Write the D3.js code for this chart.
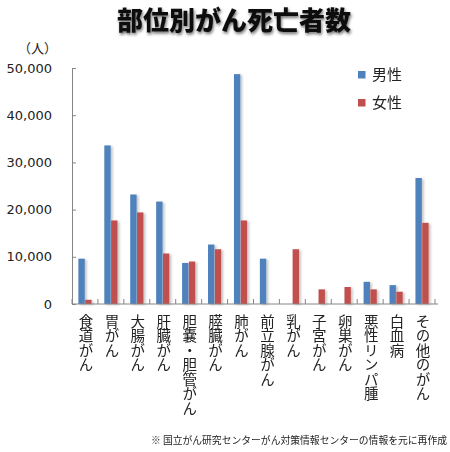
<!DOCTYPE html>
<html><head><meta charset="utf-8">
<script src="https://cdn.jsdelivr.net/npm/d3@7"></script>
<style>
html,body{margin:0;padding:0;background:#fff;}
svg{display:block;}
</style></head>
<body>
<svg id="c" width="450" height="452"></svg>
<script>
const categories = ["食道がん","胃がん","大腸がん","肝臓がん","胆嚢・胆管がん","膵臓がん","肺がん","前立腺がん","乳がん","子宮がん","卵巣がん","悪性リンパ腫","白血病","その他のがん"];
const seriesNames = ["男性","女性"];
const maleValues = [9600, 33600, 23200, 21700, 8700, 12600, 48700, 9600, 0, 0, 0, 4700, 4000, 26700];
const femaleValues = [900, 17700, 19400, 10700, 9000, 11600, 17700, 0, 11600, 3100, 3600, 3100, 2600, 17200];
const yTicks = [0, 10000, 20000, 30000, 40000, 50000];
const colors = ["#4F81BD", "#C0504D"];

const svg = d3.select("#c");
const defs = svg.append("defs");
const ts = defs.append("filter").attr("id","tshadow").attr("x","-10%").attr("y","-30%").attr("width","130%").attr("height","180%");
ts.append("feDropShadow").attr("dx",1).attr("dy",2).attr("stdDeviation",1.8).attr("flood-color","#000").attr("flood-opacity",0.55);
const bs = defs.append("filter").attr("id","bshadow").attr("x","-20%").attr("y","-5%").attr("width","160%").attr("height","110%");
bs.append("feDropShadow").attr("dx",2).attr("dy",1).attr("stdDeviation",0.8).attr("flood-color","#000").attr("flood-opacity",0.22);

const mLeft = 72, mRight = 435, mTop = 68, mBottom = 304;
const x = d3.scaleBand().domain(categories).range([mLeft, mRight]).padding(0);
const bw = x.bandwidth();
const xs = d3.scaleBand().domain(seriesNames).range([bw*0.23, bw*0.77]).padding(0.06);
const y = d3.scaleLinear().domain([0, 50000]).range([mBottom, mTop]);

// title
svg.append("text").attr("x", 234).attr("y", 30).attr("text-anchor","middle")
  .attr("font-family","'Noto Sans CJK JP'").attr("font-weight","900").attr("font-size",26)
  .attr("fill","#111").attr("filter","url(#tshadow)").text("部位別がん死亡者数");

// unit
svg.append("text").attr("x", 57).attr("y", 53).attr("text-anchor","end")
  .attr("font-family","'Noto Sans CJK JP'").attr("font-size",13).attr("fill","#222").text("（人）");

// y axis
const yAxis = d3.axisLeft(y).tickValues(yTicks).tickSize(-4).tickPadding(20)
  .tickFormat(d3.format(","));
const yg = svg.append("g").attr("transform",`translate(${mLeft},0)`).call(yAxis);
yg.select(".domain").attr("stroke","#868686");
yg.selectAll(".tick line").attr("stroke","#868686");
yg.selectAll("text").attr("font-family","'DejaVu Sans'").attr("font-size",13).attr("fill","#222");

// bars
const data = categories.map((c,i)=>({c, vals:[maleValues[i], femaleValues[i]]}));
const groups = svg.append("g").attr("filter","url(#bshadow)").selectAll("g").data(data).join("g")
  .attr("transform", d=>`translate(${x(d.c)},0)`);
groups.selectAll("rect").data(d=>d.vals.map((v,j)=>({s:seriesNames[j], v, j}))).join("rect")
  .attr("x", d=>xs(d.s)).attr("width", xs.bandwidth())
  .attr("y", d=>y(d.v)).attr("height", d=>y(0)-y(d.v))
  .attr("fill", d=>colors[d.j]);

// x axis
const xg = svg.append("g").attr("transform",`translate(0,${mBottom})`);
xg.append("line").attr("x1",mLeft).attr("x2",mRight+3).attr("y1",0).attr("y2",0).attr("stroke","#868686");
xg.selectAll("line.t").data(d3.range(categories.length+1)).join("line").attr("class","t")
  .attr("x1", i=>mLeft + i*bw).attr("x2", i=>mLeft + i*bw).attr("y1",0).attr("y2",-5).attr("stroke","#868686");

// x labels vertical
svg.append("g").selectAll("text").data(categories).join("text")
  .attr("x", d=>x(d)+bw/2+1).attr("y", 314)
  .attr("style","writing-mode: vertical-rl; text-orientation: upright;")
  .attr("font-family","'Noto Sans CJK JP'").attr("font-size",14.5).attr("fill","#222")
  .text(d=>d);

// legend
const lg = svg.append("g");
seriesNames.forEach((s,i)=>{
  const ly = 75 + i*28;
  lg.append("rect").attr("x",358).attr("y",ly-4).attr("width",7.5).attr("height",7.5).attr("fill",colors[i]);
  lg.append("text").attr("x",372).attr("y",ly+5).attr("font-family","'Noto Sans CJK JP'").attr("font-size",15).attr("fill","#222").text(s);
});

// footnote
svg.append("text").attr("x", 447).attr("y", 444).attr("text-anchor","end")
  .attr("font-family","'Noto Sans CJK JP'").attr("font-size",9.8).attr("fill","#222")
  .text("※ 国立がん研究センターがん対策情報センターの情報を元に再作成");
</script>
</body></html>
